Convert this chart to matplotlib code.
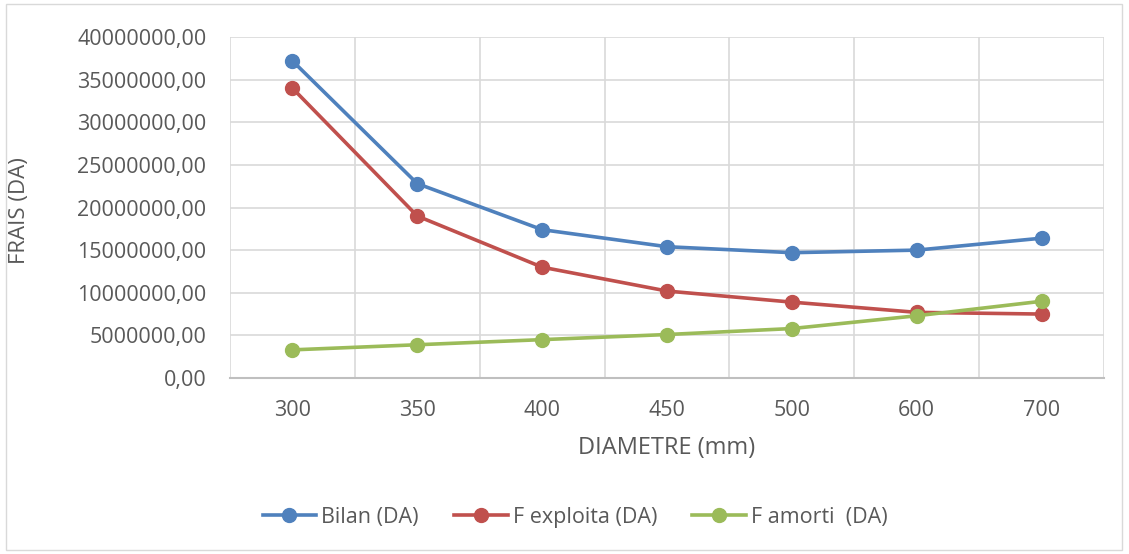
import numpy as np
import matplotlib
matplotlib.use("Agg")
import matplotlib.pyplot as plt
from matplotlib.patches import Rectangle
from matplotlib.ticker import FuncFormatter, MultipleLocator

# data
diametres = ["300", "350", "400", "450", "500", "600", "700"]
bilan = [37.2e6, 22.8e6, 17.4e6, 15.4e6, 14.7e6, 15.0e6, 16.4e6]
f_exploita = [34.0e6, 19.0e6, 13.0e6, 10.2e6, 8.9e6, 7.7e6, 7.5e6]
f_amorti = [3.3e6, 3.9e6, 4.5e6, 5.1e6, 5.8e6, 7.3e6, 9.0e6]

plt.rcParams['font.family'] = ['Open Sans', 'DejaVu Sans']
txt = '#595959'

fig = plt.figure(figsize=(11.29, 5.54), dpi=100)
ax = fig.add_axes([230/1129, 1 - 378/554, (1104 - 230)/1129, (378 - 37)/554])

# outer chart border
fig.patches.append(Rectangle((6/1129, 4/554), 1116/1129, 546/554, transform=fig.transFigure,
                             fill=False, edgecolor='#d9d9d9', linewidth=1))

x = np.arange(len(diametres))
ax.plot(x, bilan, color='#4f81bd', lw=2.6, marker='o', ms=10, label='Bilan (DA)', zorder=3)
ax.plot(x, f_exploita, color='#c0504d', lw=2.6, marker='o', ms=10, label='F exploita (DA)', zorder=3)
ax.plot(x, f_amorti, color='#9bbb59', lw=2.6, marker='o', ms=10, label='F amorti  (DA)', zorder=3)

ax.set_xlim(-0.5, len(diametres) - 0.5)
ax.set_ylim(0, 40e6)
ax.set_xticks(x)
ax.set_xticklabels(diametres)
ax.set_xticks(np.arange(-0.5, len(diametres)), minor=True)
ax.yaxis.set_major_locator(MultipleLocator(5e6))
ax.yaxis.set_major_formatter(FuncFormatter(lambda v, p: f"{v:.2f}".replace('.', ',')))

ax.grid(True, which='minor', axis='x', color='#d9d9d9', lw=1.2)
ax.grid(True, which='major', axis='y', color='#d9d9d9', lw=1.2)
ax.set_axisbelow(True)
for s in ['top', 'right', 'left']:
    ax.spines[s].set_visible(False)
ax.spines['bottom'].set_color('#bfbfbf')
ax.spines['bottom'].set_linewidth(1.5)
ax.tick_params(which='both', length=0)
ax.tick_params(axis='both', labelsize=15.5, labelcolor=txt)
ax.tick_params(axis='x', pad=16)
ax.tick_params(axis='y', pad=17)

ax.set_xlabel("DIAMETRE (mm)", fontsize=17, color=txt, labelpad=11)
ax.set_ylabel("FRAIS (DA)", fontsize=16, color=txt)
ax.yaxis.set_label_coords(-0.229, 0.49)

fig.legend(loc='center', bbox_to_anchor=(575/1129, 1 - 517/554), ncol=3, frameon=False,
           fontsize=15.5, labelcolor=txt, handlelength=2.5, columnspacing=1.63, handletextpad=0.23)

fig.savefig("out.png", dpi=100)
